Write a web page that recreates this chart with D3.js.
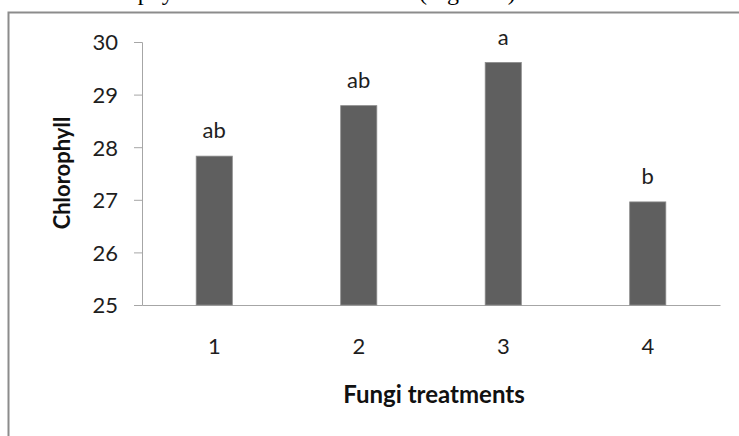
<!DOCTYPE html>
<html>
<head>
<meta charset="utf-8">
<script src="https://cdn.jsdelivr.net/npm/d3@7"></script>
<style>
    body { margin: 0; background: #fff; }
    svg { display: block; }
</style>
</head>
<body>
<svg id="chart" width="739" height="436"></svg>
<script>
// data
const treatments = ["1", "2", "3", "4"];
const chlorophyll = [27.83, 28.79, 29.61, 26.96];
const groupLetters = ["ab", "ab", "a", "b"];
const yTicks = [25, 26, 27, 28, 29, 30];

const width = 739, height = 436;
const margins = {top: 42, right: 19, bottom: 131, left: 142};
const labelFont = "Lato, sans-serif";

const svg = d3.select("#chart");

// the page text cut off above the figure box (only the descenders show, like the scan)
const pageText = svg.append("g")
    .attr("font-family", "'Liberation Serif', serif")
    .attr("font-size", 24)
    .attr("fill", "#000");
pageText.append("text").attr("x", 71).attr("y", 0).text("Chlorophyll content");
pageText.append("text").attr("x", 419).attr("y", 0).text("(Figure 3)");

// frame of the pasted figure
svg.append("path")
    .attr("d", `M8.5,${height} V12.5 H${width}`)
    .attr("fill", "none")
    .attr("stroke", "#8c8c8c")
    .attr("stroke-width", 2);

const x = d3.scaleBand()
    .domain(treatments)
    .range([margins.left, width - margins.right])
    .paddingInner(0.75)
    .paddingOuter(0.375);

const y = d3.scaleLinear()
    .domain([25, 30])
    .range([height - margins.bottom, margins.top]);

// y axis
const yAxis = svg.append("g")
    .attr("transform", `translate(${margins.left},0)`)
    .call(d3.axisLeft(y).tickValues(yTicks).tickSize(8).tickSizeOuter(8).tickPadding(16).tickFormat(d3.format("d")));
yAxis.select(".domain").attr("stroke", "#a6a6a6");
yAxis.selectAll(".tick line").attr("stroke", "#a6a6a6");
yAxis.selectAll(".tick text")
    .attr("font-family", labelFont)
    .attr("font-size", 22)
    .attr("fill", "#1e1e1e")
    .attr("dy", "0.36em");

// x axis, no ticks
const xAxis = svg.append("g")
    .attr("transform", `translate(0,${y(25)})`)
    .call(d3.axisBottom(x).tickSize(0).tickSizeOuter(0).tickPadding(33));
xAxis.select(".domain").attr("stroke", "#a6a6a6");
xAxis.selectAll(".tick text")
    .attr("font-family", labelFont)
    .attr("font-size", 22)
    .attr("fill", "#1e1e1e");

// bars
svg.append("g")
    .selectAll("rect")
    .data(chlorophyll)
    .join("rect")
    .attr("x", (d, i) => x(treatments[i]))
    .attr("width", x.bandwidth())
    .attr("y", d => y(d))
    .attr("height", d => y(25) - y(d))
    .attr("fill", "#5f5f5f")
    .attr("stroke", "#8a8a8a")
    .attr("stroke-width", 0.8);

// significance letters above the bars
svg.append("g")
    .selectAll("text")
    .data(chlorophyll)
    .join("text")
    .attr("x", (d, i) => x(treatments[i]) + x.bandwidth() / 2)
    .attr("y", d => y(d) - 18)
    .attr("text-anchor", "middle")
    .attr("font-family", labelFont)
    .attr("font-size", 22)
    .attr("fill", "#1e1e1e")
    .text((d, i) => groupLetters[i]);

// axis titles
svg.append("text")
    .attr("transform", "translate(70,173) rotate(-90)")
    .attr("text-anchor", "middle")
    .attr("font-family", labelFont)
    .attr("font-weight", "bold")
    .attr("font-size", 22)
    .attr("fill", "#111")
    .text("Chlorophyll");

svg.append("text")
    .attr("x", 434)
    .attr("y", 403)
    .attr("text-anchor", "middle")
    .attr("font-family", labelFont)
    .attr("font-weight", "bold")
    .attr("font-size", 24)
    .attr("fill", "#111")
    .text("Fungi treatments");
</script>
</body>
</html>
